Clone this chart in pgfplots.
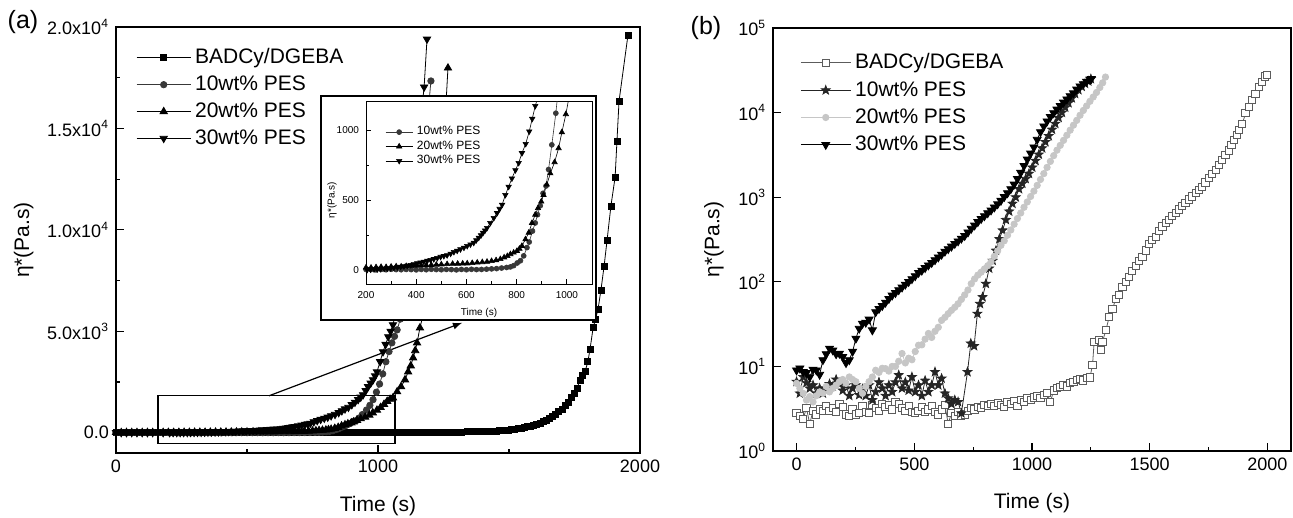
\documentclass[border=0pt]{standalone}
\usepackage{fontspec}
\setmainfont{Liberation Sans}
\usepackage{pgfplots}
\pgfplotsset{compat=1.18}
\usepackage{pgfplotstable}
\definecolor{dgray}{HTML}{383838}
\definecolor{lgray}{HTML}{C6C6C6}
\definecolor{sqgray}{HTML}{5C5C5C}
\definecolor{stgray}{HTML}{252525}

\pgfdeclareplotmark{fstar}{%
\pgfpathmoveto{\pgfpointpolar{90}{\pgfplotmarksize}}%
\pgfpathlineto{\pgfpointpolar{126}{0.42\pgfplotmarksize}}%
\pgfpathlineto{\pgfpointpolar{162}{\pgfplotmarksize}}%
\pgfpathlineto{\pgfpointpolar{198}{0.42\pgfplotmarksize}}%
\pgfpathlineto{\pgfpointpolar{234}{\pgfplotmarksize}}%
\pgfpathlineto{\pgfpointpolar{270}{0.42\pgfplotmarksize}}%
\pgfpathlineto{\pgfpointpolar{306}{\pgfplotmarksize}}%
\pgfpathlineto{\pgfpointpolar{342}{0.42\pgfplotmarksize}}%
\pgfpathlineto{\pgfpointpolar{18}{\pgfplotmarksize}}%
\pgfpathlineto{\pgfpointpolar{54}{0.42\pgfplotmarksize}}%
\pgfpathclose
\pgfusepathqfillstroke}

% ---------- panel (a) data ----------
\pgfplotstableread[row sep=\\]{t v\\0 8\\20 10\\40 6\\60 9\\80 7\\100 10\\120 8\\140 6\\160 9\\180 8\\200 10\\220 7\\240 9\\260 8\\280 6\\300 9\\320 10\\340 7\\360 8\\380 9\\400 7\\420 10\\440 8\\460 6\\480 9\\500 8\\520 10\\540 7\\560 9\\580 8\\600 6\\620 9\\640 10\\660 7\\680 8\\700 9\\720 7\\740 10\\760 8\\780 9\\800 10\\820 9\\840 11\\860 10\\880 9\\900 11\\920 10\\940 12\\960 11\\980 12\\1000 12\\1020 13\\1040 14\\1060 14\\1080 16\\1100 17\\1120 18\\1140 19\\1160 20\\1180 21\\1200 22\\1220 24\\1240 26\\1260 28\\1280 30\\1300 34\\1320 38\\1340 43\\1360 48\\1380 54\\1400 60\\1420 70\\1440 78\\1450 85\\1462 95\\1474 107\\1486 120\\1498 135\\1510 152\\1522 172\\1534 195\\1546 222\\1558 252\\1570 287\\1582 326\\1594 370\\1606 420\\1618 476\\1630 540\\1642 615\\1654 700\\1666 800\\1678 910\\1690 1030\\1702 1170\\1714 1330\\1726 1510\\1738 1720\\1750 1960\\1760 2200\\1771 2600\\1781 2850\\1790 3000\\1801 3500\\1809 4100\\1821 5170\\1830 5600\\1840 6100\\1851 7040\\1863 8220\\1874 9460\\1889 11180\\1905 12600\\1912 14380\\1920 16350\\1954 19600\\}\aBA

\pgfplotstableread[row sep=\\]{t v\\0 4\\20 2\\40 5\\60 3\\80 1\\100 4\\120 2\\140 5\\160 3\\180 2\\200 4\\220 3\\240 1\\260 4\\280 2\\300 5\\320 3\\340 2\\360 4\\380 3\\400 1\\420 4\\440 2\\460 5\\480 3\\500 2\\520 4\\540 3\\560 1\\580 4\\600 2\\620 5\\640 3\\660 4\\680 6\\700 8\\720 10\\740 14\\760 18\\775 22\\788 31\\802 50\\815 66\\828 101\\841 160\\850 200\\863 278\\874 336\\883 395\\894 459\\905 548\\917 600\\927 718\\940 894\\956 1120\\969 1350\\981 1630\\994 2000\\1006 2400\\1018 2900\\1030 3500\\1042 4000\\1053 4430\\1063 4750\\1073 5070\\1085 5600\\1097 6300\\1109 7000\\1121 7800\\1133 8800\\1145 10000\\1157 11300\\1169 12800\\1181 14400\\1192 15900\\1202 17340\\}\aTen

\pgfplotstableread[row sep=\\]{t v\\0 12\\20 10\\40 14\\60 11\\80 13\\100 12\\120 15\\140 13\\160 14\\180 16\\200 18\\220 17\\240 20\\260 22\\280 21\\300 24\\320 26\\340 25\\360 28\\380 30\\400 31\\420 33\\440 34\\460 36\\480 38\\500 40\\523 42\\545 44\\565 45\\585 46\\603 47\\623 50\\643 53\\663 56\\682 59\\700 64\\718 70\\735 78\\750 90\\763 100\\775 113\\788 124\\801 136\\811 152\\821 172\\835 219\\848 266\\861 336\\874 395\\885 442\\898 489\\907 536\\920 610\\934 690\\951 770\\967 870\\980 984\\996 1113\\1010 1250\\1023 1400\\1035 1550\\1046 1650\\1057 1720\\1073 2020\\1088 2270\\1103 2610\\1115 3000\\1125 3300\\1134 3690\\1142 4050\\1149 4430\\1160 5170\\1172 5800\\1184 6600\\1196 7500\\1208 8600\\1220 9900\\1232 11400\\1244 13200\\1256 15400\\1267 17980\\}\aTwenty

\pgfplotstableread[row sep=\\]{t v\\0 2\\20 2\\40 1\\60 3\\80 2\\100 3\\120 2\\140 3\\160 2\\180 3\\205 2\\218 4\\232 5\\245 6\\258 7\\272 9\\285 11\\298 13\\311 16\\325 20\\338 24\\351 27\\364 31\\378 36\\391 42\\404 48\\417 54\\430 60\\444 66\\457 72\\470 78\\484 86\\497 94\\510 100\\523 106\\537 117\\550 129\\563 138\\576 148\\590 160\\603 172\\616 183\\629 195\\639 213\\649 231\\658 248\\666 266\\674 283\\682 301\\695 336\\709 372\\722 407\\732 437\\742 466\\755 536\\768 595\\781 654\\795 713\\808 765\\821 835\\836 901\\850 990\\862 1080\\874 1172\\887 1250\\900 1380\\912 1500\\924 1630\\934 1750\\943 1870\\953 2070\\962 2270\\972 2440\\981 2610\\989 2800\\996 3000\\1008 3500\\1019 3990\\1029 4350\\1039 4730\\1048 5000\\1057 5320\\1069 6000\\1081 6800\\1093 7700\\1105 8700\\1117 9900\\1129 11200\\1141 12700\\1153 14200\\1165 15700\\1176 17040\\1187 19400\\}\aThirty

% ---------- panel (b) data ----------
\pgfplotstableread[row sep=\\]{t v\\0 2.8\\14 2.6\\28 2.4\\42 3.2\\56 2.1\\70 3.0\\84 2.7\\98 3.1\\112 3.0\\126 3.4\\140 3.0\\154 3.2\\168 2.9\\182 3.6\\196 3.3\\210 2.7\\224 2.6\\238 3.1\\252 2.7\\266 2.8\\280 3.4\\294 2.9\\308 2.8\\322 3.5\\336 3.2\\350 3.0\\364 3.6\\378 3.3\\392 3.5\\406 3.1\\420 3.8\\434 3.6\\448 3.2\\462 3.0\\476 3.4\\490 2.9\\504 2.8\\518 3.0\\532 3.3\\546 2.9\\560 3.1\\574 3.4\\588 2.9\\602 2.7\\616 3.1\\630 3.5\\644 2.1\\658 2.8\\672 2.6\\686 2.9\\700 2.6\\714 2.7\\728 3.0\\742 3.2\\756 3.1\\770 3.3\\784 3.2\\798 3.5\\812 3.4\\826 3.6\\840 3.4\\854 3.7\\868 3.5\\882 3.3\\896 3.8\\910 3.6\\924 3.9\\938 3.4\\952 4.0\\966 3.8\\980 4.2\\994 4.0\\1008 4.3\\1022 4.5\\1036 4.2\\1050 4.6\\1064 4.8\\1078 3.8\\1092 5.2\\1106 5.5\\1120 5.7\\1134 6.0\\1148 5.8\\1162 6.4\\1176 6.6\\1190 6.9\\1204 7.1\\1218 6.8\\1232 7.3\\1246 7.4\\1257 10.4\\1264 19.5\\1285 20.5\\1292 15.6\\1299 19.5\\1314 27\\1328 38.5\\1342 48\\1356 63\\1370 70\\1384 87\\1398 100\\1412 115\\1426 135\\1441 155\\1455 175\\1469 197\\1483 235\\1497 280\\1511 310\\1525 340\\1540 395\\1554 450\\1568 495\\1582 540\\1596 595\\1610 650\\1624 715\\1638 780\\1652 860\\1667 940\\1681 1020\\1695 1110\\1709 1220\\1723 1330\\1737 1490\\1751 1670\\1765 1870\\1780 2100\\1794 2400\\1808 2740\\1822 3130\\1836 3570\\1847 4100\\1858 4700\\1869 5400\\1879 6200\\1893 7400\\1907 9800\\1921 11600\\1935 14200\\1949 16700\\1963 20000\\1977 22900\\1990 26700\\1997 28000\\}\bBA

\pgfplotstableread[row sep=\\]{t v\\0 6.6\\14 4.8\\28 7.5\\42 6.4\\56 5.5\\70 6.0\\84 4.8\\98 5.5\\112 4.8\\126 5.5\\140 6.2\\154 5.8\\168 7.0\\182 6.2\\196 5.2\\210 6.0\\224 4.5\\238 5.5\\252 6.0\\266 4.6\\280 5.4\\294 4.5\\308 6.0\\322 4.0\\336 5.0\\350 6.5\\364 5.5\\378 4.5\\392 6.0\\406 5.0\\420 6.5\\434 7.9\\448 5.5\\462 6.5\\476 5.2\\490 7.5\\504 5.0\\518 6.0\\532 4.5\\546 6.8\\560 5.0\\574 6.0\\588 8.6\\602 6.0\\616 7.2\\630 4.8\\644 4.2\\658 3.6\\672 4.0\\686 3.8\\700 2.8\\726 8.6\\740 18.7\\754 17.4\\768 42\\779 55\\790 66\\804 95\\818 144\\833 178\\847 234\\861 320\\875 406\\889 540\\903 680\\917 840\\931 1000\\945 1250\\959 1450\\973 1650\\987 1900\\1001 2250\\1015 2700\\1029 3200\\1043 3800\\1057 4500\\1071 5300\\1085 6300\\1099 7400\\1113 8700\\1127 10000\\1141 11500\\1155 13000\\1169 14800\\1183 16700\\1197 18500\\1211 20300\\1225 22000\\1239 23500\\1250 25000\\}\bTen

\pgfplotstableread[row sep=\\]{t v\\0 6.3\\14 5.5\\28 4.8\\42 4.0\\56 4.4\\70 3.8\\84 4.5\\98 5.0\\112 4.8\\126 5.8\\140 5.0\\154 5.5\\168 6.0\\182 6.6\\196 7.0\\210 6.3\\224 7.5\\238 7.0\\252 6.6\\266 5.5\\280 4.8\\294 5.8\\308 6.6\\322 7.5\\336 9.0\\350 8.5\\364 9.5\\378 9.4\\392 8.8\\406 10.0\\420 10.0\\434 11.5\\448 14.2\\462 11.0\\476 12.5\\490 12.0\\504 15\\518 17.8\\532 18\\546 21\\560 24.5\\574 22\\588 26\\602 29\\616 35\\630 38\\644 42\\658 46\\672 50\\686 55\\700 62\\714 70\\728 80\\742 95\\756 108\\770 120\\784 130\\798 142\\812 155\\826 172\\840 200\\854 232\\868 270\\882 305\\896 355\\910 410\\924 480\\938 560\\952 650\\966 760\\980 880\\994 1020\\1008 1180\\1022 1380\\1036 1620\\1050 1900\\1064 2250\\1078 2650\\1092 3100\\1106 3600\\1120 4100\\1134 4700\\1148 5400\\1162 6200\\1176 7100\\1190 8100\\1204 9300\\1218 10600\\1232 12000\\1246 13600\\1260 15300\\1274 17300\\1288 19800\\1300 22500\\1312 26300\\}\bTwenty

\pgfplotstableread[row sep=\\]{t v\\0 9.0\\14 9.5\\28 8.6\\42 8.4\\56 7.5\\70 9.2\\84 9.0\\98 8.0\\112 11.9\\126 14\\140 16.3\\154 15.5\\168 14\\182 14.2\\196 13\\210 11\\224 11.9\\238 15\\252 21.4\\266 28\\280 32\\294 33\\308 36\\322 26.8\\336 44\\350 48\\364 52\\378 57\\392 63\\406 69\\420 74\\434 80\\448 86\\462 93\\476 100\\490 108\\504 117\\518 128\\532 136\\546 146\\560 157\\574 168\\588 181\\602 195\\616 210\\630 228\\644 244\\658 262\\672 282\\686 302\\700 325\\714 350\\728 385\\742 425\\756 465\\770 510\\784 555\\798 600\\812 650\\826 700\\840 760\\854 830\\868 910\\882 1010\\896 1120\\910 1250\\924 1420\\938 1650\\952 1950\\966 2350\\980 2800\\994 3300\\1008 3900\\1022 4800\\1036 5900\\1050 6900\\1064 7900\\1078 8900\\1092 9900\\1106 10900\\1120 12000\\1134 13200\\1148 14400\\1162 15700\\1176 17000\\1190 18800\\1204 20500\\1218 21800\\1232 23200\\1246 24700\\1252 25100\\}\bThirty

\pgfplotsset{
  myaxis/.style={
    scale only axis,
    axis line style={line width=0.8pt},
    tick align=inside,
    xtick pos=bottom, ytick pos=left,
    every tick/.style={black, line width=0.6pt},
    major tick length=4pt, minor tick length=2pt,
    scaled ticks=false,
    /pgf/number format/assume math mode=true,
    /pgf/number format/1000 sep={},
    tick label style={font=\fontsize{9}{10}\selectfont},
    label style={font=\fontsize{10.5}{12}\selectfont},
    legend cell align=left,
  },
}

\begin{document}
\begin{tikzpicture}
\useasboundingbox (0,0) rectangle (646.5pt,-259pt);

% ================= panel (a) =================
\begin{axis}[myaxis,
  at={(58pt,-226.5pt)}, anchor=south west,
  width=262pt, height=213pt,
  xmin=0, xmax=2000, ymin=-1000, ymax=20000,
  xtick={0,1000,2000}, minor x tick num=1,
  ytick={0,5000,10000,15000,20000}, minor y tick num=1,
  yticklabels={0.0, 5.0x10\textsuperscript{3}, 1.0x10\textsuperscript{4}, 1.5x10\textsuperscript{4}, 2.0x10\textsuperscript{4}},
  xlabel={Time (s)}, ylabel={η*(Pa.s)},
  xlabel style={at={(axis description cs:0.5,-0.125)}, anchor=center},
  ylabel style={at={(axis description cs:-0.176,0.5)}, anchor=center},
  legend image code/.code={\draw[mark repeat=2,mark phase=2] plot coordinates {(0pt,0pt)(13.5pt,0pt)(27pt,0pt)};},
  legend style={draw=none, fill=none, at={(0.038,0.96)}, anchor=north west, inner sep=0pt,
    font=\fontsize{10.5}{12.5}\selectfont, row sep=0.6pt},
]
\addplot[black, line width=0.4pt, mark=square*, mark size=1.5pt] table[x=t,y=v] {\aBA};
\addlegendentry{BADCy/DGEBA}
\addplot[dgray, line width=0.4pt, mark=*, mark size=1.6pt] table[x=t,y=v] {\aTen};
\addlegendentry{10wt\% PES}
\addplot[black, line width=0.4pt, mark=triangle*, mark size=2.1pt] table[x=t,y=v] {\aTwenty};
\addlegendentry{20wt\% PES}
\addplot[black, line width=0.4pt, mark=triangle*, mark size=2.1pt, mark options={rotate=180}] table[x=t,y=v] {\aThirty};
\addlegendentry{30wt\% PES}
\draw[line width=0.6pt] (axis cs:160,-540) rectangle (axis cs:1065,1820);
\draw[line width=0.6pt, -latex] (axis cs:584,1820) -- (axis cs:1321,5419);
\end{axis}

% inset frame
\filldraw[fill=white, draw=black, line width=0.6pt] (160.5pt,-48pt) rectangle (298pt,-160pt);

% ================= inset =================
\begin{axis}[
  scale only axis,
  at={(183pt,-142pt)}, anchor=south west,
  width=113pt, height=91pt,
  axis line style={line width=0.5pt},
  tick align=inside, xtick pos=bottom, ytick pos=left,
  every tick/.style={black, line width=0.4pt},
  major tick length=2.5pt, minor tick length=1.3pt,
  scaled ticks=false,
  /pgf/number format/assume math mode=true,
  /pgf/number format/1000 sep={},
  tick label style={font=\fontsize{5}{6}\selectfont},
  label style={font=\fontsize{5}{6}\selectfont},
  xmin=200, xmax=1100, ymin=-100, ymax=1200,
  xtick={200,400,600,800,1000}, minor x tick num=1,
  ytick={0,500,1000}, minor y tick num=1,
  xlabel={Time (s)}, ylabel={η*(Pa.s)},
  xlabel style={at={(axis description cs:0.5,-0.16)}, anchor=center},
  ylabel style={at={(axis description cs:-0.15,0.46)}, anchor=center},
  legend cell align=left,
  legend image code/.code={\draw[mark repeat=2,mark phase=2] plot coordinates {(0pt,0pt)(6.75pt,0pt)(13.5pt,0pt)};},
  legend style={draw=none, fill=none, at={(0.084,0.89)}, anchor=north west, inner sep=0pt,
    font=\fontsize{6}{7}\selectfont, row sep=-2.5pt},
]
\addplot[dgray, line width=0.3pt, mark=*, mark size=1.25pt] table[x=t,y=v] {\aTen};
\addlegendentry{10wt\% PES}
\addplot[black, line width=0.3pt, mark=triangle*, mark size=1.55pt] table[x=t,y=v] {\aTwenty};
\addlegendentry{20wt\% PES}
\addplot[black, line width=0.3pt, mark=triangle*, mark size=1.55pt, mark options={rotate=180}] table[x=t,y=v] {\aThirty};
\addlegendentry{30wt\% PES}
\end{axis}

% ================= panel (b) =================
\begin{axis}[myaxis,
  at={(386.5pt,-225.5pt)}, anchor=south west,
  width=259pt, height=211.5pt,
  ymode=log, log basis y=10,
  xmin=-100, xmax=2100, ymin=1, ymax=100000,
  xtick={0,500,1000,1500,2000}, minor x tick num=1,
  ytick={1,10,100,1000,10000,100000},
  yticklabels={10\textsuperscript{0},10\textsuperscript{1},10\textsuperscript{2},10\textsuperscript{3},10\textsuperscript{4},10\textsuperscript{5}},
  xlabel={Time (s)}, ylabel={η*(Pa.s)},
  xlabel style={at={(axis description cs:0.5,-0.123)}, anchor=center},
  ylabel style={at={(axis description cs:-0.114,0.5)}, anchor=center},
  legend image code/.code={\draw[mark repeat=2,mark phase=2] plot coordinates {(0pt,0pt)(12.5pt,0pt)(25pt,0pt)};},
  legend style={draw=none, fill=none, at={(0.052,0.95)}, anchor=north west, inner sep=0pt,
    font=\fontsize{10.5}{12.5}\selectfont, row sep=0.8pt},
]
\addplot[sqgray, line width=0.4pt, mark=square*, mark size=1.8pt, mark options={fill=white, draw=sqgray, line width=0.5pt}] table[x=t,y=v] {\bBA};
\addlegendentry{BADCy/DGEBA}
\addplot[stgray, line width=0.4pt, mark=fstar, mark size=2.3pt] table[x=t,y=v] {\bTen};
\addlegendentry{10wt\% PES}
\addplot[lgray, line width=0.4pt, mark=*, mark size=1.6pt] table[x=t,y=v] {\bTwenty};
\addlegendentry{20wt\% PES}
\addplot[black, line width=0.4pt, mark=triangle*, mark size=2.3pt, mark options={rotate=180}] table[x=t,y=v] {\bThirty};
\addlegendentry{30wt\% PES}
\end{axis}

\node[font=\fontsize{12.5}{14}\selectfont] at (11.5pt,-11pt) {(a)};
\node[font=\fontsize{12.5}{14}\selectfont] at (353pt,-14pt) {(b)};
\end{tikzpicture}
\end{document}
